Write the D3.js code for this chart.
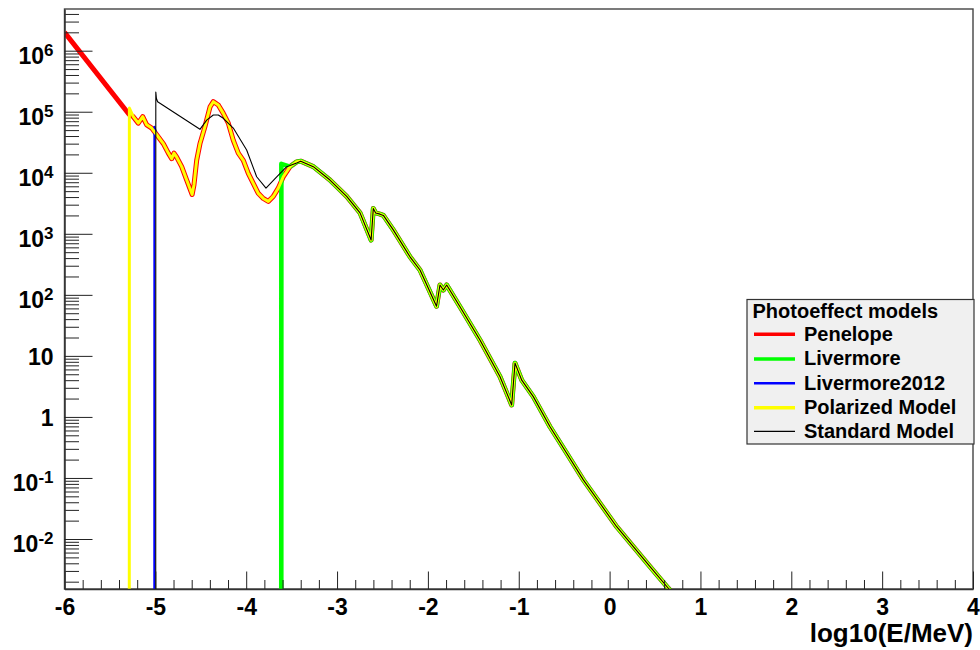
<!DOCTYPE html>
<html><head><meta charset="utf-8">
<script src="https://cdn.jsdelivr.net/npm/d3@7"></script>
<style>
body{margin:0;background:#fff}
svg{display:block}
text{font-family:"Liberation Sans",Arial,Helvetica,sans-serif;font-weight:bold;fill:#000}
</style>
</head><body>
<svg id="chart" width="980" height="650"></svg>
<script>
// ---------------- data ----------------
const xTicks = [-6, -5, -4, -3, -2, -1, 0, 1, 2, 3, 4];
const xTickLabels = ["-6", "-5", "-4", "-3", "-2", "-1", "0", "1", "2", "3", "4"];
const yTicks = [1e-2, 1e-1, 1, 10, 1e2, 1e3, 1e4, 1e5, 1e6];
const yTickBase = ["10", "10", "1", "10", "10", "10", "10", "10", "10"];
const yTickExp = ["-2", "-1", "", "", "2", "3", "4", "5", "6"];
const xTitle = "log10(E/MeV)";
const legendTitle = "Photoeffect models";
const seriesNames = ["Penelope", "Livermore", "Livermore2012", "Polarized Model", "Standard Model"];

// Penelope start (red) above the lowest shell
const penelopeHeadX = [-6.0, -5.29];
const penelopeHeadY = [2.0e6, 9.1e4];
// Polarized (yellow) starts with a vertical edge
const polarizedHeadX = [-5.287, -5.286];
const polarizedHeadY = [1e-4, 1.15e5];
// Livermore2012 (blue) vertical edge
const liv2012HeadX = [-5.012, -5.011];
const liv2012HeadY = [1e-4, 5.7e4];
// Livermore (green) vertical edge
const livHeadX = [-3.614, -3.613];
const livHeadY = [1e-4, 1.4e4];

// low-energy shell structure shared by Penelope / Polarized / Livermore2012
const shellX = [-5.243, -5.188, -5.139, -5.095, -5.040, -4.985, -4.912, -4.857, -4.820, -4.795,
  -4.765, -4.710, -4.655, -4.595, -4.575, -4.545, -4.509, -4.454, -4.398, -4.362,
  -4.307, -4.252, -4.197, -4.142, -4.087, -4.032, -3.977, -3.922, -3.867, -3.812,
  -3.757, -3.702, -3.647, -3.592];
const shellY = [8.3e4, 6.5e4, 8.3e4, 6.1e4, 5.4e4, 4.2e4, 3.0e4, 2.1e4, 1.7e4, 2.1e4,
  1.8e4, 1.26e4, 7.6e3, 4.4e3, 6.3e3, 1.6e4, 3.0e4, 5.7e4, 1.2e5, 1.46e5,
  1.29e5, 9.4e4, 6.5e4, 3.4e4, 2.1e4, 1.6e4, 9.8e3, 6.7e3, 4.6e3, 3.8e3,
  3.4e3, 4.1e3, 5.6e3, 8.6e3];

// Standard model (black) low-energy part
const standardHeadX = [-4.996, -4.995, -4.988, -4.975, -4.509, -4.435, -4.362, -4.307, -4.252, -4.142,
  -3.995, -3.885, -3.782, -3.664, -3.554, -3.444];
const standardHeadY = [1e-4, 2.1e5, 1.65e5, 1.46e5, 5.15e4, 7.3e4, 8.85e4, 8.85e4, 7.8e4, 5.4e4,
  2.36e4, 8.6e3, 5.6e3, 8.6e3, 1.26e4, 1.45e4];

// common part, all models agree above ~0.3 keV
const commonX = [-3.518, -3.444, -3.40, -3.261, -3.078, -2.894, -2.747, -2.625, -2.601, -2.575,
  -2.527, -2.49, -2.381, -2.197, -2.087, -1.905, -1.867, -1.830, -1.793, -1.647,
  -1.427, -1.206, -1.078, -1.041, -0.967, -0.840, -0.656, -0.472, -0.289, -0.106,
  0.078, 0.261, 0.445, 0.646, 0.75];
const commonY = [1.26e4, 1.51e4, 1.55e4, 1.26e4, 7.6e3, 4.1e3, 2.2e3, 7.9e2, 2.6e3, 2.2e3,
  2.1e3, 2.0e3, 1.16e3, 4.2e2, 2.55e2, 65, 145, 120, 145, 64,
  18.2, 4.56, 1.57, 7.6, 4.0, 2.15, 0.69, 0.254, 0.093, 0.0385,
  0.0159, 0.0075, 0.00352, 0.00156, 0.00105];

// ---------------- styles ----------------
const seriesColors = ["#ff0000", "#00ff00", "#0000ff", "#ffff00", "#000000"];
const seriesWidths = [5, 4.6, 2, 3, 1.1];

const zip = (xs, ys) => xs.map((v, i) => [v, ys[i]]);
const shell = zip(shellX, shellY);
const common = zip(commonX, commonY);
const series = [
  zip(penelopeHeadX, penelopeHeadY).concat(shell, common),
  zip(livHeadX, livHeadY).concat(common),
  zip(liv2012HeadX, liv2012HeadY).concat(shell.filter(d => d[0] > -5.0), common),
  zip(polarizedHeadX, polarizedHeadY).concat(shell, common),
  zip(standardHeadX, standardHeadY).concat(common.filter(d => d[0] > -3.43))
];

// ---------------- layout ----------------
const L = 64.5, R = 973, T = 9, B = 589;
const svg = d3.select("#chart");
const x = d3.scaleLinear().domain([-6, 4]).range([L, R]);
const y = d3.scaleLog().domain([Math.pow(10, -2.819), Math.pow(10, 6.683)]).range([B, T]);

svg.append("defs").append("clipPath").attr("id", "clip")
  .append("rect").attr("x", L).attr("y", T).attr("width", R - L).attr("height", B - T);

// frame
svg.append("rect").attr("x", L).attr("y", T).attr("width", R - L).attr("height", B - T)
  .attr("fill", "none").attr("stroke", "#444").attr("stroke-width", 1.4);

// curves
const line = d3.line().x(d => x(d[0])).y(d => y(d[1]));
const gLines = svg.append("g").attr("clip-path", "url(#clip)");
series.forEach((s, i) => {
  gLines.append("path").datum(s).attr("d", line)
    .attr("fill", "none").attr("stroke", seriesColors[i])
    .attr("stroke-width", seriesWidths[i]).attr("stroke-linejoin", "round");
});

// x axis minor
const xMinor = x.ticks(50).filter(v => Math.abs(v - Math.round(v)) > 1e-6);
svg.append("g").attr("transform", `translate(0,${B})`)
  .call(d3.axisBottom(x).tickValues(xMinor).tickSize(-9).tickFormat(() => ""))
  .call(g => g.select(".domain").remove())
  .selectAll("line").attr("stroke", "#222");
// x axis major
const gx = svg.append("g").attr("transform", `translate(0,${B})`)
  .call(d3.axisBottom(x).tickValues(xTicks).tickSize(-17.5).tickSizeOuter(0)
    .tickFormat((d, i) => xTickLabels[i]));
gx.select(".domain").attr("stroke", "#333").attr("stroke-width", 1.5);
gx.selectAll("line").attr("stroke", "#222");
gx.selectAll("text").attr("y", 26).attr("dy", 0).style("font-size", "23px")
  .style("font-family", '"Liberation Sans",Arial,sans-serif').style("font-weight", "bold");

// y axis minor
const yMinor = [];
for (let p = -3; p <= 6; p++) for (let k = 2; k <= 9; k++) {
  const v = k * Math.pow(10, p);
  if (v >= y.domain()[0] && v <= y.domain()[1]) yMinor.push(v);
}
svg.append("g").attr("transform", `translate(${L},0)`)
  .call(d3.axisLeft(y).tickValues(yMinor).tickSize(-14.5).tickFormat(() => ""))
  .call(g => g.select(".domain").remove())
  .selectAll("line").attr("stroke", "#222");
// y axis major
const gy = svg.append("g").attr("transform", `translate(${L},0)`)
  .call(d3.axisLeft(y).tickValues(yTicks).tickSize(-28).tickSizeOuter(0).tickFormat(() => ""));
gy.select(".domain").attr("stroke", "#333").attr("stroke-width", 1.5);
gy.selectAll("line").attr("stroke", "#222");
gy.selectAll(".tick text").each(function (d, i) {
  const t = d3.select(this).text(null).attr("x", -11).attr("dy", 0)
    .style("font-size", "23px").style("font-family", '"Liberation Sans",Arial,sans-serif')
    .style("font-weight", "bold").attr("text-anchor", "end");
  if (yTickExp[i] === "") {
    t.attr("y", 8.3);
    t.append("tspan").text(yTickBase[i]);
  } else {
    t.attr("y", 12.8);
    t.append("tspan").text(yTickBase[i]);
    t.append("tspan").attr("dy", -8.5).style("font-size", "17px").text(yTickExp[i]);
  }
});

// axis title
svg.append("text").attr("x", R).attr("y", 642).attr("text-anchor", "end")
  .style("font-size", "26px").text(xTitle);

// legend
const lg = svg.append("g");
lg.append("rect").attr("x", 747).attr("y", 299.5).attr("width", 227).attr("height", 144.5)
  .attr("fill", "#f0f0f0").attr("stroke", "#333").attr("stroke-width", 1.2);
lg.append("text").attr("x", 752.5).attr("y", 317.5).style("font-size", "20px").text(legendTitle);
const legendBase = [340.7, 365.4, 389.8, 414.2, 437.8];
seriesNames.forEach((n, i) => {
  const cy = legendBase[i] - 6.5;
  lg.append("line").attr("x1", 754).attr("x2", 795).attr("y1", cy).attr("y2", cy)
    .attr("stroke", seriesColors[i]).attr("stroke-width", i === 4 ? 1.2 : (i === 2 ? 2.5 : 3.5));
  lg.append("text").attr("x", 804).attr("y", legendBase[i]).style("font-size", "20px").text(n);
});
</script>
</body></html>
